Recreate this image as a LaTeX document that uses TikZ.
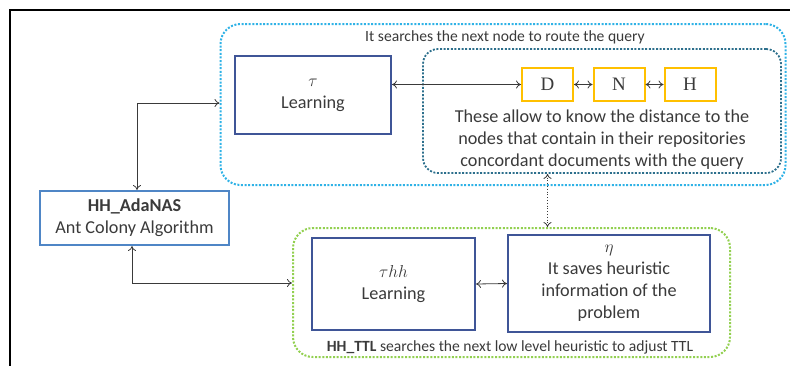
\documentclass[tikz,border=0pt]{standalone}
\usepackage{fontspec}
\setmainfont{Carlito}
\newfontfamily\seriffont{Liberation Serif}
\usetikzlibrary{arrows.meta}
\definecolor{txt}{HTML}{3A3A3A}
\definecolor{skyline}{HTML}{2FB2E6}
\definecolor{tealline}{HTML}{2C6F8C}
\definecolor{greenline}{HTML}{92D050}
\definecolor{boxblue}{HTML}{3F5597}
\definecolor{adablue}{HTML}{4F86C6}
\definecolor{gold}{HTML}{FFC000}
\tikzset{
  body/.style={font=\fontsize{18.2}{22}\selectfont, text=txt, align=center},
  small/.style={font=\fontsize{15.6}{18}\selectfont, text=txt},
  dotframe/.style={line width=2pt, dash pattern=on 2pt off 1.6pt, rounded corners=#1},
  learnbox/.style={draw=boxblue, line width=2pt, body, inner sep=0pt},
  letterbox/.style={draw=gold, line width=2pt, minimum width=51, minimum height=33,
    font=\seriffont\fontsize{19}{20}\selectfont, text=txt},
  link/.style={line width=0.8pt, draw=txt, {To[length=5pt,width=8pt]}-{To[length=5pt,width=8pt]}},
}
\begin{document}
\begin{tikzpicture}[x=1pt, y=-1pt]
\useasboundingbox (0,0) rectangle (790,365);
% page frame
\draw[line width=2pt, black] (10,366) -- (10,10) -- (791,10);

% routing search region
\node[draw=skyline, dotframe=20, minimum width=565, minimum height=161] (blue) at (503,104.5) {};
\node[small] (bluelabel) at (505,37) {It searches the next node to route the query};
\node[learnbox, minimum width=156, minimum height=78] (tau) at (313,95) {$\tau$\\Learning};
\node[draw=tealline, dotframe=15, line width=1.8pt, minimum width=358, minimum height=124] (teal) at (602,111) {};
\node[letterbox] (D) at (547.5,84.5) {D};
\node[letterbox] (N) at (619,84.5) {N};
\node[letterbox] (H) at (690,84.5) {H};
\node[body] (distance) at (602,140) {These allow to know the distance to the\\nodes that contain in their repositories\\concordant documents with the query};

% hyper-heuristic
\node[draw=adablue, line width=2pt, body, minimum width=189, minimum height=54, inner sep=0pt] (ada) at (134.5,218) {\textbf{HH\_AdaNAS}\\Ant Colony Algorithm};

% TTL search region
\node[draw=greenline, dotframe=20, minimum width=437, minimum height=129] (green) at (511.5,292.5) {};
\node[learnbox, minimum width=163, minimum height=92] (tauhh) at (393.5,284) {$\tau hh$\\Learning};
\node[learnbox, minimum width=202, minimum height=97] (eta) at (609,283.5) {$\eta$\\It saves heuristic\\information of the\\problem};
\node[small] (greenlabel) at (510,347) {\textbf{HH\_TTL} searches the next low level heuristic to adjust TTL};

% connectors
\coordinate (up) at (137,103);
\coordinate (down) at (132,283);
\draw[link] (ada.north -| up) -- (up) -- (blue.west |- up);
\draw[link] (ada.south -| down) -- (down) -- (green.west |- down);
\draw[link] (tau.east |- D.west) -- (D.west);
\draw[link] (D) -- (N);
\draw[link] (N) -- (H);
\draw[link] (tauhh.east) -- (eta.west);
\draw[link, dotted] (teal.south -| D) -- (green.north -| D);
\end{tikzpicture}
\end{document}
